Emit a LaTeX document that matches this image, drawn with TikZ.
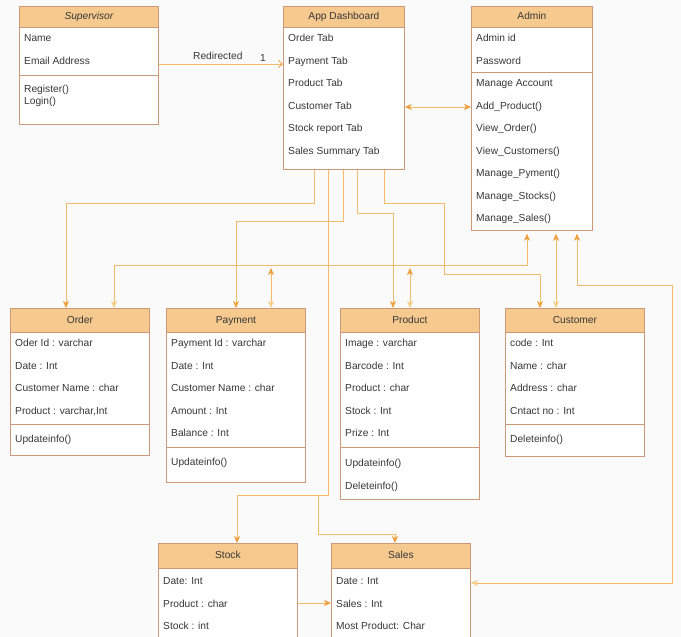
\documentclass[tikz,border=0pt]{standalone}
\usepackage{fontspec}
\setmainfont{Liberation Sans}
\usetikzlibrary{arrows.meta,positioning,calc}
\definecolor{pagebg}{RGB}{250,250,250}
\definecolor{headfill}{RGB}{246,201,142}
\definecolor{boxline}{RGB}{204,152,122}
\definecolor{connline}{RGB}{243,186,104}
\definecolor{tipdark}{RGB}{240,158,58}
\definecolor{tiplight}{RGB}{244,206,132}
\definecolor{textgray}{RGB}{55,55,55}
\newcommand{\umlfont}{\fontsize{10.2}{11.5}\selectfont}
\newcommand{\classrows}[4]{%
  \foreach \rowtext [count=\i] in {#4}
    \node[attr] (#1-\i) at (#2,{#3+22.5*(\i-1)}) {\rowtext};}
\tikzset{
  classbox/.style={draw=boxline,fill=white,line width=0.8pt,anchor=north west,inner sep=0pt},
  classhead/.style={draw=boxline,fill=headfill,line width=0.8pt,anchor=north,inner sep=0pt,
    text=textgray,font=\umlfont,text height=7.4pt,text depth=2.2pt},
  methods/.style={anchor=west,inner sep=0pt,text=textgray,font=\umlfont},
  attr/.style={methods,text height=7.4pt,text depth=2.2pt},
  divline/.style={draw=boxline,line width=0.8pt},
  conn/.style={draw=connline,line width=0.8pt},
  dtip/.style={-{Stealth[length=7pt,width=6pt,inset=2pt,color=tipdark]}},
  ldtip/.style={{Stealth[length=7pt,width=6pt,inset=2pt,color=tiplight]}-{Stealth[length=7pt,width=6pt,inset=2pt,color=tipdark]}},
  ddtip/.style={{Stealth[length=7pt,width=6pt,inset=2pt,color=tipdark]}-{Stealth[length=7pt,width=6pt,inset=2pt,color=tipdark]}}
}
\begin{document}
\begin{tikzpicture}[x=1pt,y=-1pt]
\clip (0,0) rectangle (681,637);
\fill[pagebg] (0,0) rectangle (681,637);

\node[classbox,minimum width=139pt,minimum height=118pt] (sup) at (19,6) {};
\node[classhead,minimum width=139pt,minimum height=21pt] (suphead) at (sup.north) {\itshape Supervisor};
\classrows{sup}{24}{39}{Name,Email Address}
\draw[divline] (sup.west |- 0,75) -- (sup.east |- 0,75);
\node[methods,align=left] (supm) at (24,96) {Register()\\Login()};

\node[classbox,minimum width=121pt,minimum height=163pt] (dash) at (283,6) {};
\node[classhead,minimum width=121pt,minimum height=21pt] (dashhead) at (dash.north) {App Dashboard};
\classrows{dash}{288}{39}{Order Tab,Payment Tab,Product Tab,Customer Tab,Stock report Tab,Sales Summary Tab}

\node[classbox,minimum width=121pt,minimum height=224pt] (admin) at (471,6) {};
\node[classhead,minimum width=121pt,minimum height=21pt] (adminhead) at (admin.north) {Admin};
\classrows{admin}{476}{39}{Admin id,Password,Manage Account,Add\_Product(),View\_Order(),View\_Customers(),Manage\_Pyment(),Manage\_Stocks(),Manage\_Sales()}
\draw[divline] (admin.west |- 0,72) -- (admin.east |- 0,72);

\node[classbox,minimum width=139pt,minimum height=147pt] (order) at (10,308) {};
\node[classhead,minimum width=139pt,minimum height=24pt] (orderhead) at (order.north) {Order};
\classrows{order}{15}{344}{Oder Id : varchar,Date : Int,Customer Name : char,{Product : varchar,Int}}
\draw[divline] (order.west |- 0,424) -- (order.east |- 0,424);
\classrows{orderm}{15}{440}{Updateinfo()}

\node[classbox,minimum width=139pt,minimum height=174pt] (pay) at (166,308) {};
\node[classhead,minimum width=139pt,minimum height=24pt] (payhead) at (pay.north) {Payment};
\classrows{pay}{171}{344}{Payment Id : varchar,Date : Int,Customer Name : char,Amount : Int,Balance : Int}
\draw[divline] (pay.west |- 0,447) -- (pay.east |- 0,447);
\classrows{paym}{171}{463}{Updateinfo()}

\node[classbox,minimum width=139pt,minimum height=191pt] (prod) at (340,308) {};
\node[classhead,minimum width=139pt,minimum height=24pt] (prodhead) at (prod.north) {Product};
\classrows{prod}{345}{344}{Image : varchar,Barcode : Int,Product : char,Stock : Int,Prize : Int}
\draw[divline] (prod.west |- 0,447) -- (prod.east |- 0,447);
\classrows{prodm}{345}{464}{Updateinfo(),Deleteinfo()}

\node[classbox,minimum width=139pt,minimum height=148pt] (cust) at (505,308) {};
\node[classhead,minimum width=139pt,minimum height=24pt] (custhead) at (cust.north) {Customer};
\classrows{cust}{510}{344}{code : Int,Name : char,Address : char,Cntact no : Int}
\draw[divline] (cust.west |- 0,424) -- (cust.east |- 0,424);
\classrows{custm}{510}{440}{Deleteinfo()}

\node[classbox,minimum width=139pt,minimum height=110pt] (stock) at (158,543) {};
\node[classhead,minimum width=139pt,minimum height=25pt] (stockhead) at (stock.north) {Stock};
\classrows{stock}{163}{582}{Date: Int,Product : char,Stock : int}

\node[classbox,minimum width=139pt,minimum height=110pt] (sales) at (331,543) {};
\node[classhead,minimum width=139pt,minimum height=25pt] (saleshead) at (sales.north) {Sales};
\classrows{sales}{336}{582}{Date : Int,Sales : Int,Most Product: Char}

\coordinate (payup) at (271,268);
\coordinate (produp) at (410,268);
\coordinate (split) at (328,495);

\draw[conn,-{Straight Barb[length=4pt,width=7pt,color=tipdark]}] (sup.east |- 0,64) -- (dash.west |- 0,64);
\node[attr] (redir) at (193,57) {Redirected};
\node[attr] (mult) at (260,59) {1};
\draw[conn,ddtip] (dash.east |- 0,107) -- (admin.west |- 0,107);

\draw[conn,dtip] (dash.south -| 314,0) |- (66,203) -- (order.north -| 66,0);
\draw[conn,ldtip,shorten >=3pt] (order.north -| 114,0) |- (527,265) -- (admin.south -| 527,0);
\draw[conn,dtip] (dash.south -| 343,0) |- (236,221) -- (pay.north -| 236,0);
\draw[conn,ldtip] (pay.north -| 271,0) -- (payup);
\draw[conn,dtip] (dash.south -| 357,0) |- (393,213) -- (prod.north -| 393,0);
\draw[conn,ldtip] (prod.north -| 410,0) -- (produp);
\draw[conn,dtip] (dash.south -| 384,0) |- (444,203) |- (540,274) -- (cust.north -| 540,0);
\draw[conn,ldtip,shorten >=3pt] (cust.north -| 556,0) -- (admin.south -| 556,0);
\draw[conn,ldtip,shorten >=3pt] (sales.east |- 0,583) -| (672,285) -| (admin.south -| 577,0);
\draw[conn,dtip] (dash.south -| 328,0) -- (split) -| (stock.north -| 237,0);
\draw[conn,dtip] (split) -- (318,495) |- (395,534) -- (sales.north -| 395,0);
\draw[conn,dtip] (stock.east |- 0,603) -- (sales.west |- 0,603);
\end{tikzpicture}
\end{document}
